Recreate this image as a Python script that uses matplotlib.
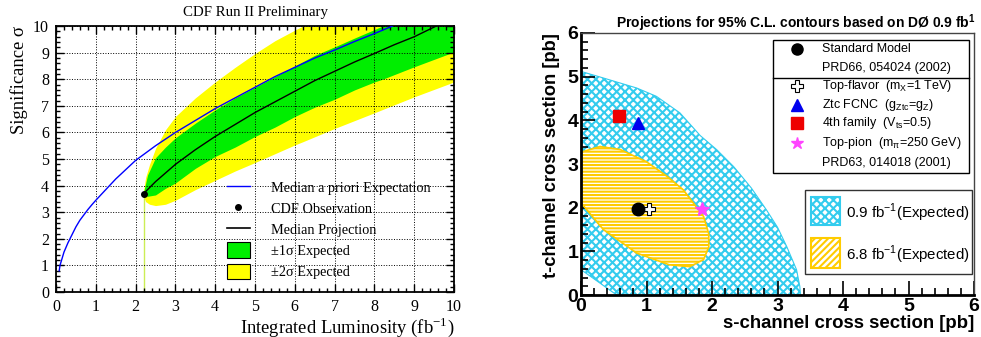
"""Two-panel single-top figure: CDF significance projection and D0 s/t-channel contours."""

import matplotlib
matplotlib.use('Agg')
import matplotlib.pyplot as plt
from matplotlib.lines import Line2D
from matplotlib.patches import Patch, Rectangle
from matplotlib.ticker import MultipleLocator

plt.rcParams['hatch.linewidth'] = 1.5
SERIF = ['Liberation Serif', 'DejaVu Serif']
SANS = ['Liberation Sans', 'DejaVu Sans']

# ---- left panel: significance vs integrated luminosity ----
prior_lumi = [0.08, 0.1, 0.15, 0.2, 0.3, 0.4, 0.5, 0.6, 0.7, 0.8, 0.9, 1.0, 1.25, 1.5, 1.75,
              2.0, 2.5, 3.0, 3.5, 4.0, 4.5, 5.0, 5.5, 6.0, 6.5, 7.0, 7.5, 8.0, 8.45]
prior_sig = [0.8, 1.0, 1.25, 1.5, 1.85, 2.15, 2.45, 2.7, 2.9, 3.1, 3.28, 3.45, 3.85, 4.25, 4.6,
             4.95, 5.5, 6.0, 6.45, 6.9, 7.3, 7.7, 8.1, 8.45, 8.8, 9.1, 9.42, 9.72, 10.0]

proj_lumi = [2.2, 2.5, 3.0, 3.5, 4.0, 4.5, 5.0, 5.5, 6.0, 6.5, 7.0, 7.5, 8.0, 8.5, 9.0, 9.55]
proj_sig = [3.7, 4.15, 4.8, 5.35, 5.85, 6.3, 6.75, 7.15, 7.55, 7.95, 8.3, 8.65, 8.97, 9.3, 9.6, 10.0]

band1_lumi = [2.2, 2.3, 2.5, 2.75, 3.0, 3.5, 4.0, 4.5, 5.0, 5.5, 6.0, 6.5, 7.0, 7.5, 8.0, 8.2, 9.0, 10.0]
band1_lo = [3.65, 3.6, 3.65, 3.9, 4.1, 4.65, 5.1, 5.45, 5.85, 6.2, 6.6, 6.95, 7.25, 7.6, 7.9, 8.0, 8.47, 9.03]
band1_hi = [3.75, 4.4, 5.05, 5.45, 5.8, 6.35, 6.85, 7.3, 7.7, 8.1, 8.5, 8.9, 9.22, 9.55, 9.87, 10.0, 10.0, 10.0]

band2_lumi = [2.2, 2.25, 2.35, 2.5, 2.75, 3.0, 3.5, 4.0, 4.5, 5.0, 5.5, 6.0, 6.2, 7.0, 8.0, 9.0, 10.0]
band2_lo = [3.6, 3.4, 3.3, 3.25, 3.3, 3.45, 3.85, 4.2, 4.55, 4.87, 5.2, 5.53, 5.65, 6.15, 6.74, 7.34, 7.9]
band2_hi = [3.8, 4.3, 4.8, 5.4, 6.1, 6.6, 7.3, 7.9, 8.45, 8.97, 9.45, 9.85, 10.0, 10.0, 10.0, 10.0, 10.0]

obs_lumi = 2.2
obs_sig = 3.7

left_labels = ['Median a priori Expectation', 'CDF Observation', 'Median Projection',
               '\u00b11\u03c3 Expected', '\u00b12\u03c3 Expected']

# ---- right panel: 95% C.L. contours in (s, t) plane ----
c09_s = [0.0, 0.0, 0.34, 0.85, 1.15, 1.51, 1.82, 2.07, 2.33, 2.6, 2.83, 3.0, 3.14, 3.29, 3.34, 3.35, 0.545]
c09_t = [0.58, 5.12, 4.97, 4.74, 4.55, 4.17, 3.65, 3.33, 2.94, 2.45, 1.95, 1.55, 1.11, 0.58, 0.2, 0.0, 0.0]

c68_s = [0.0, 0.34, 0.85, 1.35, 1.66, 1.87, 1.95, 1.95, 1.87, 1.56, 1.31, 1.0, 0.6, 0.29, 0.0]
c68_t = [2.11, 1.5, 0.96, 0.69, 0.65, 0.81, 1.1, 1.4, 1.8, 2.41, 2.72, 3.05, 3.33, 3.4, 3.27]

models = ['Top-flavor', 'Standard Model', 'Ztc FCNC', '4th family', 'Top-pion']
model_s = [1.03, 0.875, 0.875, 0.58, 1.84]
model_t = [1.97, 1.97, 3.94, 4.1, 1.97]
model_style = {
    'Standard Model': dict(marker='o', color='k', mfc='k', ms=9),
    'Top-flavor': dict(marker='P', color='k', mfc='white', mew=0.8, ms=9),
    'Ztc FCNC': dict(marker='^', color='#0000ee', mfc='#0000ee', ms=9),
    '4th family': dict(marker='s', color='#ee0000', mfc='#ee0000', ms=9),
    'Top-pion': dict(marker='*', color='#ff44ff', mfc='#ff44ff', ms=10),
}

fig = plt.figure(figsize=(9.81, 3.37), dpi=100)

# ------------------------------------------------------------------ left
ax1 = fig.add_axes([0.0571, 0.1335, 0.4057, 0.789])
ax1.fill_between(band2_lumi, band2_lo, band2_hi, color='#ffff00', lw=0, zorder=1)
ax1.fill_between(band1_lumi, band1_lo, band1_hi, color='#00ee00', lw=0, zorder=1.2)
ax1.plot([obs_lumi, obs_lumi], [0, obs_sig], color='#ccee55', lw=1.0, zorder=1.5)
ax1.plot(prior_lumi, prior_sig, color='#0000ff', lw=1.0, zorder=3)
ax1.plot(proj_lumi, proj_sig, color='k', lw=1.0, zorder=3)
ax1.plot(obs_lumi, obs_sig, 'o', color='k', ms=4, zorder=4)

ax1.set_xlim(0, 10)
ax1.set_ylim(0, 10)
ax1.xaxis.set_major_locator(MultipleLocator(1))
ax1.yaxis.set_major_locator(MultipleLocator(1))
ax1.xaxis.set_minor_locator(MultipleLocator(0.2))
ax1.yaxis.set_minor_locator(MultipleLocator(0.2))
ax1.tick_params(which='both', direction='in', top=True, right=True, width=1)
ax1.tick_params(which='major', length=6, labelsize=11.5, pad=5)
ax1.tick_params(which='minor', length=3)
for lab in ax1.get_xticklabels() + ax1.get_yticklabels():
    lab.set_family(SERIF)
ax1.set_axisbelow(False)
ax1.grid(True, which='major', ls=':', color='k', lw=0.7)
for sp in ax1.spines.values():
    sp.set_linewidth(1.3)

ax1.set_title('CDF Run II Preliminary', family=SERIF, fontsize=10.7, pad=7)
ax1.set_xlabel('Integrated Luminosity (fb$^{\\mathregular{-1}}$)', family=SERIF,
               fontsize=13.4, loc='right', labelpad=0)
ax1.set_ylabel('Significance \u03c3', family=SERIF, fontsize=13.4, loc='top', labelpad=4)

left_handles = [
    Line2D([], [], color='#0000ff', lw=1.0),
    Line2D([], [], marker='o', ls='none', color='k', ms=4),
    Line2D([], [], color='k', lw=1.2),
    Patch(facecolor='#00ee00', edgecolor='k', lw=0.8),
    Patch(facecolor='#ffff00', edgecolor='k', lw=0.8),
]
ax1.legend(left_handles, left_labels, loc='upper left', bbox_to_anchor=(0.415, 0.445),
           frameon=False, prop={'family': SERIF, 'size': 10.3}, handlelength=1.6,
           handleheight=1.3, labelspacing=0.38, handletextpad=1.5, borderaxespad=0)

# ------------------------------------------------------------------ right
ax2 = fig.add_axes([0.5923, 0.1246, 0.4006, 0.7775])
ax2.fill(c09_s, c09_t, facecolor='white', edgecolor='#33ccee', hatch='xxxx', lw=0.8, zorder=1)
ax2.fill(c68_s, c68_t, facecolor='white', edgecolor='#ffcc00', hatch='-----', lw=1.2, zorder=2)
for name, s, t in zip(models, model_s, model_t):
    ax2.plot(s, t, ls='none', zorder=5, **model_style[name])

ax2.set_xlim(0, 6)
ax2.set_ylim(0, 6)
ax2.xaxis.set_major_locator(MultipleLocator(1))
ax2.yaxis.set_major_locator(MultipleLocator(1))
ax2.xaxis.set_minor_locator(MultipleLocator(0.2))
ax2.yaxis.set_minor_locator(MultipleLocator(0.2))
ax2.tick_params(which='both', direction='in', width=1.2)
ax2.tick_params(which='major', length=10, labelsize=14, pad=2)
ax2.tick_params(axis='y', which='major', pad=2)
ax2.tick_params(which='minor', length=5)
for lab in ax2.get_xticklabels() + ax2.get_yticklabels():
    lab.set_family(SANS)
    lab.set_fontweight('bold')
ax2.spines['left'].set_linewidth(2)
ax2.spines['bottom'].set_linewidth(2)
for side in ('top', 'right'):
    ax2.spines[side].set_linewidth(1)
    ax2.spines[side].set_color('#444444')

ax2.set_xlabel('s-channel cross section [pb]', family=SANS, fontweight='bold',
               fontsize=13.4, loc='right', labelpad=0)
ax2.set_ylabel('t-channel cross section [pb]', family=SANS, fontweight='bold',
               fontsize=13.2, loc='top', labelpad=5)
fig.text(0.994, 0.932, 'Projections for 95% C.L. contours based on D\u00d8 0.9 fb$^{\\mathregular{1}}$',
         ha='right', va='center', family=SANS, fontweight='bold', fontsize=10)

# model legend (upper box)
tr = ax2.transAxes
ax2.add_patch(Rectangle((0.489, 0.466), 0.498, 0.507, transform=tr, facecolor='white',
                        edgecolor='k', lw=1, zorder=6, clip_on=False))
ax2.plot([0.489, 0.987], [0.828, 0.828], transform=tr, color='k', lw=1, zorder=7)
leg_rows = [
    ('Standard Model', 'Standard Model', 0.939),
    (None, 'PRD66, 054024 (2002)', 0.866),
    ('Top-flavor', 'Top-flavor  (m$_{\\mathregular{X}}$=1 TeV)', 0.798),
    ('Ztc FCNC', 'Ztc FCNC  (g$_{\\mathregular{Ztc}}$=g$_{\\mathregular{Z}}$)', 0.725),
    ('4th family', '4th family  (V$_{\\mathregular{ts}}$=0.5)', 0.657),
    ('Top-pion', 'Top-pion  (m$_{\\mathregular{\u03c0}}$=250 GeV)', 0.580),
    (None, 'PRD63, 014018 (2001)', 0.504),
]
for key, text, y in leg_rows:
    if key is not None:
        st = dict(model_style[key])
        st['ms'] = st['ms'] - 1
        ax2.plot(0.55, y, transform=tr, ls='none', zorder=8, clip_on=False, **st)
    ax2.text(0.613, y, text, transform=tr, family=SANS, fontsize=9, va='center',
             ha='left', zorder=8)

# luminosity legend (lower box)
ax2.add_patch(Rectangle((0.570, 0.080), 0.425, 0.321, transform=tr, facecolor='white',
                        edgecolor='#333333', lw=1, zorder=6, clip_on=False))
ax2.add_patch(Rectangle((0.585, 0.267), 0.074, 0.107, transform=tr, facecolor='white',
                        edgecolor='#33ccee', hatch='xxxx', lw=1.5, zorder=7))
ax2.add_patch(Rectangle((0.585, 0.103), 0.074, 0.115, transform=tr, facecolor='white',
                        edgecolor='#ffcc00', hatch='/////', lw=1.5, zorder=7))
ax2.text(0.674, 0.313, '0.9 fb$^{\\mathregular{-1}}$(Expected)', transform=tr, family=SANS,
         fontsize=10.8, va='center', zorder=8)
ax2.text(0.674, 0.153, '6.8 fb$^{\\mathregular{-1}}$(Expected)', transform=tr, family=SANS,
         fontsize=10.8, va='center', zorder=8)

fig.savefig('out.png', dpi=100)
plt.close(fig)
